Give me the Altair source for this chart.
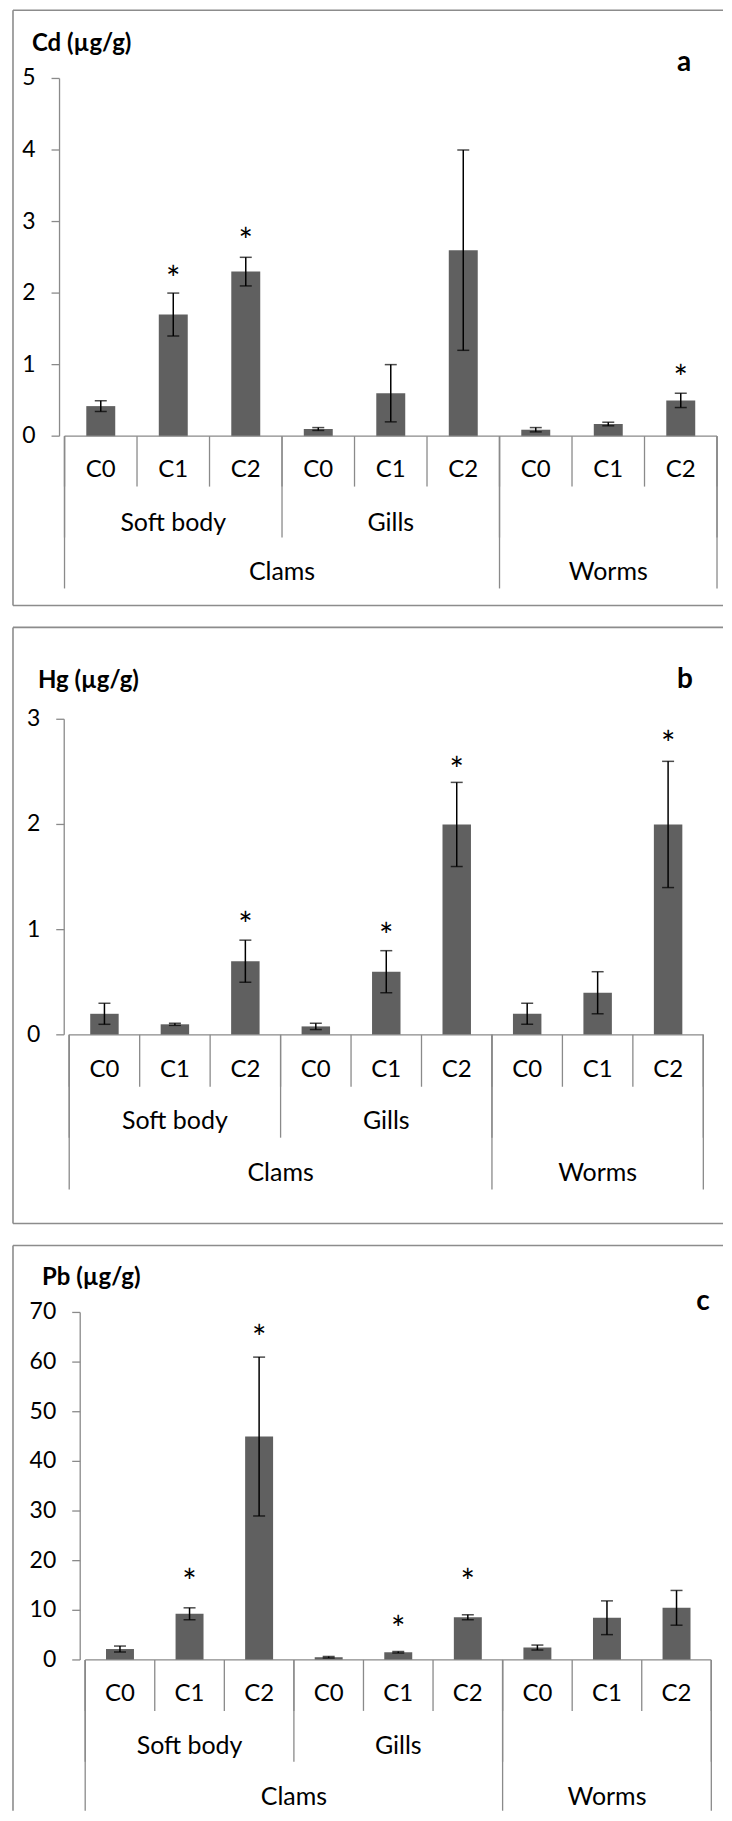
import altair as alt
import pandas as pd

FONT = "Lato"
BAR = "#606060"
AXIS = "#8a8a8a"
FRAME = "#8c8c8c"

# ---------------- data ----------------
conc = ["C0", "C1", "C2", "C0", "C1", "C2", "C0", "C1", "C2"]
tissues = ["Soft body", "Gills", ""]
tissue_span = [(0, 3), (3, 6), (6, 9)]
organisms = ["Clams", "Worms"]
organism_span = [(0, 6), (6, 9)]

cd_mean = [0.42, 1.70, 2.30, 0.10, 0.60, 2.60, 0.09, 0.17, 0.50]
cd_sd = [0.075, 0.30, 0.20, 0.02, 0.40, 1.40, 0.03, 0.025, 0.10]
cd_star = [None, 2.29, 2.83, None, None, None, None, None, 0.91]
cd_ticks = [0, 1, 2, 3, 4, 5]

hg_mean = [0.20, 0.10, 0.70, 0.08, 0.60, 2.00, 0.20, 0.40, 2.00]
hg_sd = [0.10, 0.01, 0.20, 0.03, 0.20, 0.40, 0.10, 0.20, 0.60]
hg_star = [None, None, 1.11, None, 1.01, 2.58, None, None, 2.83]
hg_ticks = [0, 1, 2, 3]

pb_mean = [2.2, 9.3, 45.0, 0.55, 1.55, 8.6, 2.5, 8.5, 10.5]
pb_sd = [0.6, 1.2, 16.0, 0.15, 0.15, 0.5, 0.5, 3.4, 3.5]
pb_star = [None, 17.2, 66.2, None, 7.6, 17.2, None, None, None]
pb_ticks = [0, 10, 20, 30, 40, 50, 60, 70]


def panel(label, letter, mean, sd, star, ticks, W, H, xl, xr, y0, ytop,
          ylab, ysep1, yl2, ysep2, yl3, ysep3, title_x, title_y,
          letter_x, letter_y, bar_size, frame_bottom=True):
    df = pd.DataFrame({
        "pos": [i + 0.5 for i in range(len(conc))],
        "cat": conc,
        "mean": mean,
        "lo": [m - s for m, s in zip(mean, sd)],
        "hi": [m + s for m, s in zip(mean, sd)],
        "star": star,
    })
    xs = alt.Scale(domain=[0, len(conc)], range=[xl, xr], nice=False, zero=False)
    ys = alt.Scale(domain=[ticks[0], ticks[-1]], range=[y0, ytop], nice=False)
    X = alt.X("pos:Q", scale=xs, axis=None)

    bars = alt.Chart(df).mark_bar(size=bar_size, color=BAR).encode(
        x=X, y=alt.Y("mean:Q", scale=ys, axis=None))
    err = alt.Chart(df).mark_rule(color="black", strokeWidth=1.5).encode(
        x=X, y=alt.Y("lo:Q", scale=ys, axis=None), y2="hi:Q")
    cap_lo = alt.Chart(df).mark_tick(orient="horizontal", size=12, thickness=1.5,
                                     color="black").encode(
        x=X, y=alt.Y("lo:Q", scale=ys, axis=None))
    cap_hi = alt.Chart(df).mark_tick(orient="horizontal", size=12, thickness=1.5,
                                     color="black").encode(
        x=X, y=alt.Y("hi:Q", scale=ys, axis=None))
    stars = alt.Chart(df).transform_filter("datum.star != null").mark_text(
        text="*", font=FONT, fontSize=34, color="black", baseline="alphabetic",
        dy=19).encode(x=X, y=alt.Y("star:Q", scale=ys, axis=None))

    # y axis (Excel style) drawn from the y scale
    tk = pd.DataFrame({"v": ticks, "lab": [str(t) for t in ticks]})
    ydom = alt.Chart(pd.DataFrame({"a": [ticks[0]], "b": [ticks[-1]]})).mark_rule(
        color=AXIS, strokeWidth=1.3).encode(
        x=alt.value(xl), y=alt.Y("a:Q", scale=ys, axis=None), y2="b:Q")
    yticks = alt.Chart(tk).mark_rule(color=AXIS, strokeWidth=1.3).encode(
        x=alt.value(xl - 8), x2=alt.value(xl), y=alt.Y("v:Q", scale=ys, axis=None))
    ylabels = alt.Chart(tk).mark_text(font=FONT, fontSize=23, color="black",
                                      align="right", baseline="middle").encode(
        x=alt.value(xl - 24), y=alt.Y("v:Q", scale=ys, axis=None), text="lab:N")

    base = pd.DataFrame({"x0": [0], "x1": [len(conc)], "y": [0]})
    baseline = alt.Chart(base).mark_rule(color=AXIS, strokeWidth=1.3).encode(
        x=alt.X("x0:Q", scale=xs, axis=None), x2="x1:Q",
        y=alt.Y("y:Q", scale=ys, axis=None))

    b1 = pd.DataFrame({"b": list(range(len(conc) + 1))})
    b2 = pd.DataFrame({"b": sorted({v for s in tissue_span for v in s})})
    b3 = pd.DataFrame({"b": sorted({v for s in organism_span for v in s})})

    def seps(d, yend):
        return alt.Chart(d).mark_rule(color=AXIS, strokeWidth=1.3).encode(
            x=alt.X("b:Q", scale=xs, axis=None), y=alt.value(y0), y2=alt.value(yend))

    lab1 = alt.Chart(df).mark_text(font=FONT, fontSize=24, color="black",
                                   baseline="middle").encode(
        x=X, y=alt.value(ylab), text="cat:N")
    t2 = pd.DataFrame({"name": tissues, "mid": [(a + b) / 2 for a, b in tissue_span]})
    lab2 = alt.Chart(t2).mark_text(font=FONT, fontSize=25, color="black",
                                   baseline="middle").encode(
        x=alt.X("mid:Q", scale=xs, axis=None), y=alt.value(yl2), text="name:N")
    t3 = pd.DataFrame({"name": organisms, "mid": [(a + b) / 2 for a, b in organism_span]})
    lab3 = alt.Chart(t3).mark_text(font=FONT, fontSize=25, color="black",
                                   baseline="middle").encode(
        x=alt.X("mid:Q", scale=xs, axis=None), y=alt.value(yl3), text="name:N")

    tt = pd.DataFrame({"t": [label], "l": [letter]})
    title = alt.Chart(tt).mark_text(font=FONT, fontSize=24, fontWeight="bold",
                                    align="left", baseline="middle",
                                    color="black").encode(
        x=alt.value(title_x), y=alt.value(title_y), text="t:N")
    let = alt.Chart(tt).mark_text(font=FONT, fontSize=28, fontWeight="bold",
                                  align="center", baseline="middle",
                                  color="black").encode(
        x=alt.value(letter_x), y=alt.value(letter_y), text="l:N")

    one = pd.DataFrame({"k": [0]})
    ftop = alt.Chart(one).mark_rule(color=FRAME, strokeWidth=1.6).encode(
        x=alt.value(0), x2=alt.value(W), y=alt.value(0))
    fleft = alt.Chart(one).mark_rule(color=FRAME, strokeWidth=1.6).encode(
        x=alt.value(0), y=alt.value(0), y2=alt.value(H))
    layers = [ftop, fleft]
    if frame_bottom:
        fbot = alt.Chart(one).mark_rule(color=FRAME, strokeWidth=1.6).encode(
            x=alt.value(0), x2=alt.value(W), y=alt.value(H))
        layers.append(fbot)

    layers += [bars, err, cap_lo, cap_hi, stars, ydom, yticks, ylabels, baseline,
               seps(b1, ysep1), seps(b2, ysep2), seps(b3, ysep3),
               lab1, lab2, lab3, title, let]
    return alt.layer(*layers).properties(width=W, height=H)


W = 711
pa = panel("Cd (µg/g)", "a", cd_mean, cd_sd, cd_star, cd_ticks, W, 596,
           46.6, 710, 426.5, 68.3, 460, 477, 513, 528, 563, 579,
           19, 34, 672, 53, 29)
pb = panel("Hg (µg/g)", "b", hg_mean, hg_sd, hg_star, hg_ticks, W, 597,
           51.3, 696.3, 408, 92, 443, 460, 494, 511, 546, 563,
           25, 54, 673, 53, 28.5)
pc = panel("Pb (µg/g)", "c", pb_mean, pb_sd, pb_star, pb_ticks, W, 566,
           67.3, 704.3, 415, 67, 449, 466, 501, 517, 552, 566,
           29, 33, 691, 57, 28, frame_bottom=False)

chart = alt.vconcat(pa, pb, pc, spacing=20).properties(
    padding={"left": 4, "top": 0, "right": 0, "bottom": 0},
    background="white",
).configure_view(stroke=None)

chart.save("out.html", embed_options={"renderer": "svg", "actions": False})
